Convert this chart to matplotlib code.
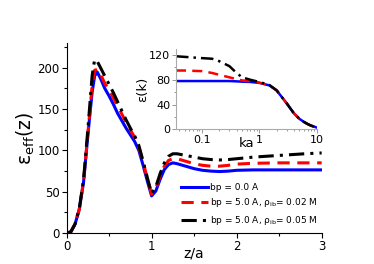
import matplotlib
matplotlib.use('Agg')
import matplotlib.pyplot as plt
from matplotlib.ticker import MultipleLocator, LogLocator, NullFormatter

# main panel: eps_eff(z) against z/a
z = [0, 0.05, 0.1, 0.15, 0.2, 0.25, 0.3, 0.33, 0.36, 0.4, 0.45, 0.5, 0.55, 0.6, 0.65,
     0.7, 0.75, 0.8, 0.85, 0.9, 0.95, 1.0, 1.05, 1.1, 1.15, 1.2, 1.25, 1.3, 1.4, 1.5,
     1.6, 1.7, 1.8, 1.9, 2.0, 2.2, 2.5, 2.8, 3.0]
eps_bp0 = [0, 1.5, 11, 29, 62, 118, 170, 190, 195, 187, 175, 166, 156, 145, 136,
           127, 119, 111, 100, 82, 63, 45, 51, 65, 77, 83, 85, 84, 81, 78,
           76, 75, 74.5, 75, 76, 76.5, 76.5, 76.5, 76.5]
eps_002 = [0, 1.5, 11, 29, 63, 120, 178, 197, 198, 192, 181, 173, 164, 154, 144,
           134, 125, 116, 104, 86, 66, 47, 54, 69, 81, 88, 90, 90, 87, 84,
           82, 81, 81, 82, 83.5, 84.5, 85, 85, 85]
eps_005 = [0, 1.5, 11, 30, 65, 125, 190, 210, 208, 200, 190, 180, 170, 159, 148,
           137, 127, 118, 106, 87, 67, 48, 56, 72, 85, 93, 96, 96, 94, 92,
           90, 89, 88.5, 89, 90, 92, 94, 96, 97]

# inset: eps(k) against ka
ka = [0.035, 0.05, 0.07, 0.1, 0.15, 0.2, 0.3, 0.4, 0.5, 0.7, 1.0, 1.5, 2.0, 3.0,
      4.0, 5.0, 6.0, 7.0, 8.0, 10.0]
epsk_bp0 = [78, 78, 78, 78, 78, 78, 78, 77.5, 77, 76.5, 75, 71, 63, 42,
            26, 17, 12, 8.5, 6, 3]
epsk_002 = [95, 95, 94.5, 94, 91, 88, 84, 81, 79, 77.5, 75.5, 71, 63, 42,
            26, 17, 12, 8.5, 6, 3]
epsk_005 = [118, 117, 116, 115, 114, 110, 102, 91, 84, 80, 76.5, 71.5, 63, 42,
            26, 17, 12, 8.5, 6, 3]

labels = ['bp = 0.0 A',
          'bp = 5.0 A, $\\mathregular{ρ_{ib}}$= 0.02 M',
          'bp = 5.0 A, $\\mathregular{ρ_{ib}}$= 0.05 M']

fig = plt.figure(figsize=(3.74, 2.64), dpi=100)
ax = fig.add_axes([0.178, 0.117, 0.682, 0.72])

ax.plot(z, eps_bp0, color='#0000ff', lw=2.2, ls='-', label=labels[0])
ax.plot(z, eps_002, color='#ff0000', lw=2.2, ls=(0, (4, 2.5)), label=labels[1])
ax.plot(z, eps_005, color='black', lw=2.2, ls=(0, (5, 2, 1, 2)), label=labels[2])

ax.set_xlim(0, 3)
ax.set_ylim(0, 230)
ax.xaxis.set_major_locator(MultipleLocator(1))
ax.xaxis.set_minor_locator(MultipleLocator(0.5))
ax.yaxis.set_major_locator(MultipleLocator(50))
ax.yaxis.set_minor_locator(MultipleLocator(25))
ax.tick_params(which='both', direction='out', labelsize=8.5, width=0.8, pad=1.5)
ax.tick_params(which='major', length=3.5)
ax.tick_params(which='minor', length=2)
for s in ['top', 'right']:
    ax.spines[s].set_visible(False)
for s in ['left', 'bottom']:
    ax.spines[s].set_linewidth(0.8)
ax.set_xlabel('z/a', fontsize=10)
ax.xaxis.set_label_coords(0.5, -0.07)
ax.set_ylabel('$\\mathregular{ε_{eff}(z)}$', fontsize=13.5, labelpad=0)

ax.legend(loc='center left', bbox_to_anchor=(0.425, 0.148), frameon=False, fontsize=6.5,
          handlelength=3.0, handletextpad=0.15, labelspacing=0.5, borderpad=0.2)

# inset
ins = fig.add_axes([0.4706, 0.51, 0.376, 0.305])
ins.plot(ka, epsk_bp0, color='#0000ff', lw=1.8, ls='-')
ins.plot(ka, epsk_002, color='#ff0000', lw=1.8, ls=(0, (4, 2.5)))
ins.plot(ka, epsk_005, color='black', lw=1.8, ls=(0, (5, 2, 1, 2)))
ins.set_xscale('log')
ins.set_xlim(0.035, 10)
ins.set_ylim(0, 130)
ins.set_xticks([0.1, 1, 10])
ins.set_xticklabels(['0.1', '1', '10'])
ins.xaxis.set_minor_locator(LogLocator(base=10, subs=range(2, 10)))
ins.xaxis.set_minor_formatter(NullFormatter())
ins.yaxis.set_major_locator(MultipleLocator(40))
ins.yaxis.set_minor_locator(MultipleLocator(20))
ins.tick_params(which='both', direction='out', labelsize=8, width=0.6, pad=1, color='#888888')
ins.tick_params(which='major', length=3)
ins.tick_params(which='minor', length=1.5)
for s in ['top', 'right']:
    ins.spines[s].set_visible(False)
for s in ['left', 'bottom']:
    ins.spines[s].set_color('#aaaaaa')
    ins.spines[s].set_linewidth(0.8)
ins.patch.set_alpha(0)
ins.set_xlabel('ka', fontsize=9.5, labelpad=-6)
ins.set_ylabel('ε(k)', fontsize=9.5, labelpad=0)

fig.savefig('out.png', dpi=100)
